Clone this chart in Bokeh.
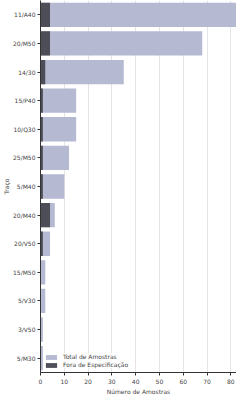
from bokeh.plotting import figure
from bokeh.models import ColumnDataSource, Range1d, FactorRange, Legend, LegendItem
from bokeh.embed import file_html
from bokeh.resources import INLINE

categories = ["11/A40", "20/M50", "14/30", "15/P40", "10/Q30", "25/M50", "5/M40",
              "20/M40", "20/V50", "15/M50", "5/V30", "3/V50", "5/M30"]
total = [83, 68, 35, 15, 15, 12, 10, 6, 4, 2, 2, 1, 1]
fora = [4, 4, 2, 1, 1, 1, 1, 4, 1, 0, 0, 0, 0]
xticks = [0, 10, 20, 30, 40, 50, 60, 70, 80]

src = ColumnDataSource(dict(cat=categories, total=total, fora=fora))

p = figure(width=236, height=397, output_backend="svg", toolbar_location=None,
           y_range=FactorRange(*reversed(categories), range_padding=0.0),
           x_range=Range1d(0, 82.4))
p.min_border_left = 0
p.min_border_right = 0
p.min_border_top = 0
p.min_border_bottom = 0
p.outline_line_color = None

r1 = p.hbar(y="cat", right="total", left=0, height=0.85, source=src,
            fill_color="#b5b9d1", line_color=None)
r2 = p.hbar(y="cat", right="fora", left=0, height=0.85, source=src,
            fill_color="#4e4e58", line_color=None)

p.ygrid.grid_line_color = None
p.xgrid.grid_line_color = "#e4e4e4"
p.xaxis.ticker = xticks
p.xaxis.axis_label = "Número de Amostras"
p.yaxis.axis_label = "Traço"
for ax in (p.xaxis, p.yaxis):
    ax.major_label_text_font = "DejaVu Sans"
    ax.major_label_text_font_size = "6px"
    ax.axis_label_text_font = "DejaVu Sans"
    ax.axis_label_text_font_size = "6px"
    ax.axis_label_text_font_style = "normal"
    ax.axis_line_color = "#333333"
    ax.major_tick_line_color = "#333333"
    ax.minor_tick_line_color = None
    ax.major_tick_out = 3
    ax.major_tick_in = 0
p.xaxis.axis_label_standoff = 1
p.yaxis.axis_label_standoff = 0
p.yaxis.major_label_standoff = 2
p.xaxis.major_label_standoff = 3

legend = Legend(items=[LegendItem(label="Total de Amostras", renderers=[r1]),
                       LegendItem(label="Fora de Especificação", renderers=[r2])],
                location="bottom_left")
legend.label_text_font = "DejaVu Sans"
legend.label_text_font_size = "6px"
legend.glyph_height = 6
legend.glyph_width = 14
legend.label_height = 6
legend.spacing = 1
legend.padding = 3
legend.margin = 4
legend.border_line_color = None
legend.background_fill_alpha = 0.8
p.add_layout(legend)

open("out.html", "w").write(file_html(p, INLINE))
